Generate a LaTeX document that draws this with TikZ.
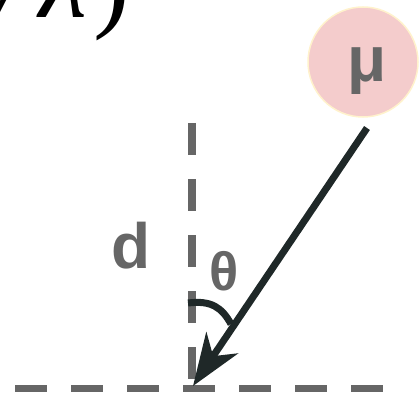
\documentclass[tikz,border=0pt]{standalone}
\usepackage{fontspec}
\setmainfont{Liberation Sans}
\newfontfamily\formulafont{Liberation Serif}
\usetikzlibrary{arrows.meta}
\definecolor{txtgray}{HTML}{666666}
\definecolor{dashgray}{HTML}{666666}
\definecolor{arrowdark}{HTML}{1F2828}
\definecolor{pinkfill}{HTML}{F4CCCC}
\definecolor{paleedge}{HTML}{FFF2CC}
\begin{document}
\begin{tikzpicture}[x=1pt,y=-1pt,
  guide/.style={draw=dashgray,line width=7.5pt,dash pattern=on 32pt off 24pt},
  ray/.style={draw=arrowdark,line width=7pt,-{Stealth[length=52pt,width=38pt,inset=16pt]}},
  hookline/.style={draw=arrowdark,line width=7pt},
  lbl/.style={text=txtgray,font=\bfseries\fontsize{64}{64}\selectfont,inner sep=0pt,anchor=base}]
\useasboundingbox (0,0) rectangle (420,393);
\clip (0,0) rectangle (420,393);
\node[anchor=base east, inner sep=0pt, font=\formulafont\fontsize{110}{110}\selectfont] (formula) at (130,18) {\itshape c/\kern12pt λ\kern6pt\upshape)};
\coordinate (vtop) at (192,123);
\coordinate (vbot) at (192,379);
\draw[guide] (vtop) -- (vbot);
\coordinate (hl) at (15,388.5);
\coordinate (hr) at (383,388.5);
\draw[guide] (hl) -- (hr);
\node[circle, fill=pinkfill, draw=paleedge, line width=1.5pt, minimum size=110pt, inner sep=0pt] (mu) at (363,62) {};
\node[lbl] (mutext) at (367,82) {μ};
\node[lbl] (d) at (131,268) {d};
\node[lbl, font=\bfseries\fontsize{54}{54}\selectfont] (theta) at (224,290) {θ};
\coordinate (start) at (367,128);
\coordinate (tip) at (193,386);
\coordinate (hookstart) at (188,303);
\coordinate (hookend) at (231,324);
\draw[hookline] (hookstart) .. controls (212,300) and (222,308) .. (hookend);
\draw[ray] (start) -- (tip);
\end{tikzpicture}
\end{document}
